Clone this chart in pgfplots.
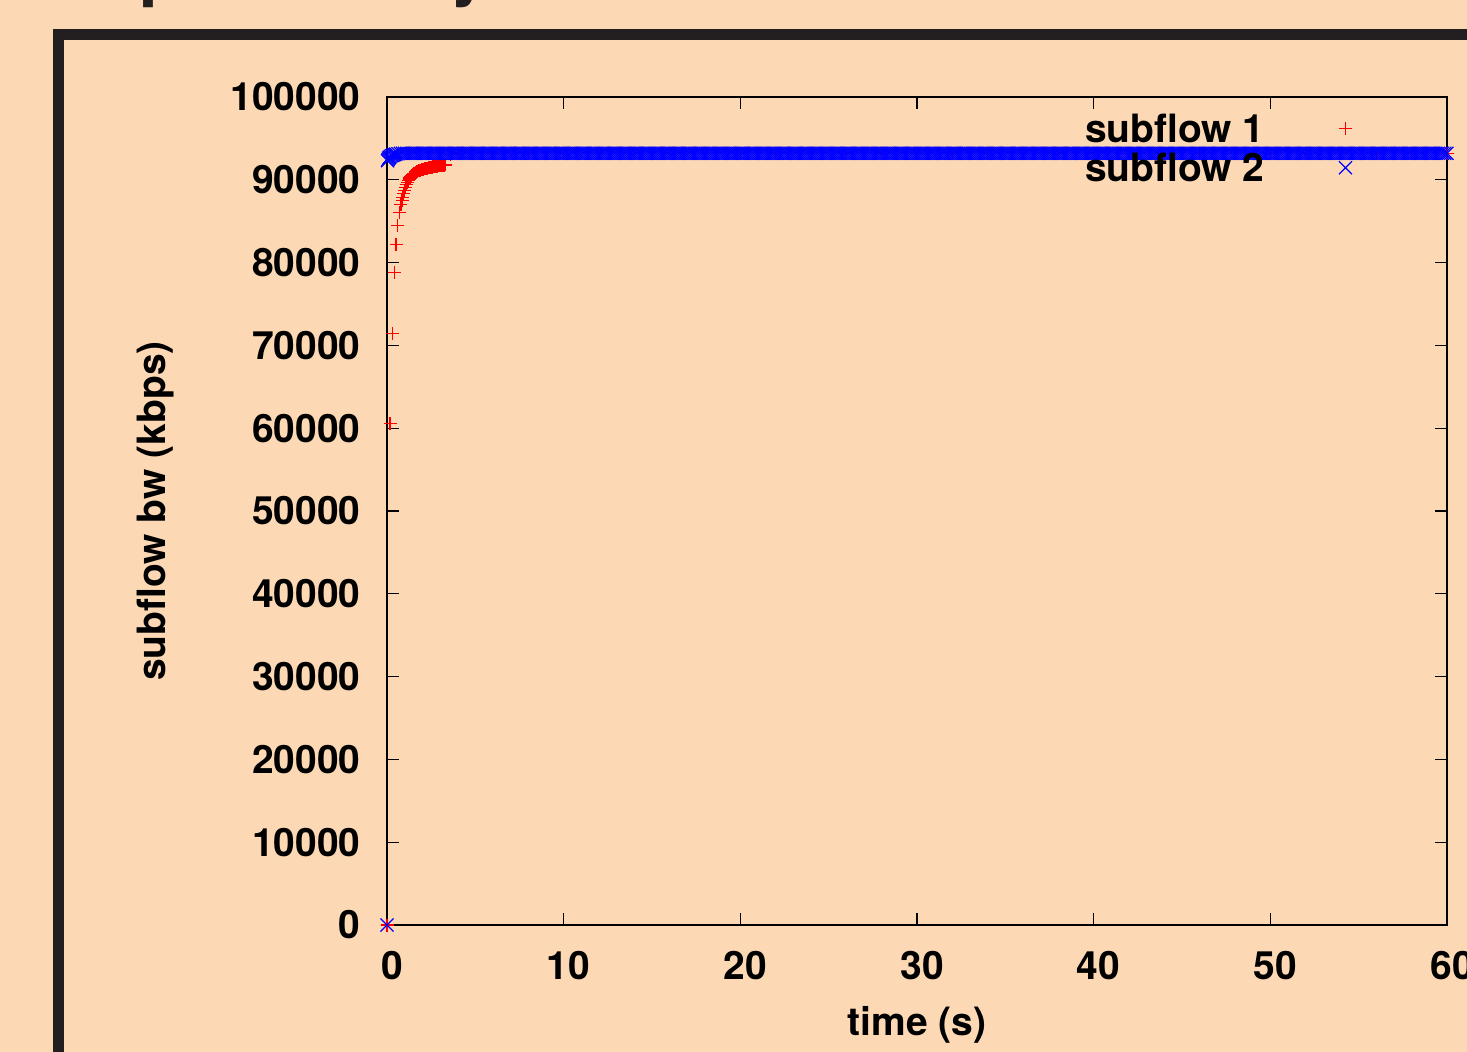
\documentclass[border=0pt]{standalone}
\usepackage{pgfplots}
\pgfplotsset{compat=1.18}
\usepackage{fontspec}
\setmainfont{TeX Gyre Heros}
\definecolor{bg}{RGB}{252,217,180}
\definecolor{framec}{RGB}{35,31,32}
\newcommand{\bigf}{\fontsize{19.5}{23}\selectfont\bfseries}
\begin{document}
\begin{tikzpicture}
\useasboundingbox (0,0) rectangle (733.5pt,-526pt);
\clip (0,0) rectangle (733.5pt,-526pt);
\fill[bg] (-5pt,5pt) rectangle (740pt,-530pt);
\draw[framec, line width=5.5pt] (29.25pt,-17.25pt) rectangle (800pt,-600pt);
\node[anchor=base west, inner sep=0pt, font=\fontsize{35}{40}\selectfont\bfseries, text=framec] at (69.5pt,3.5pt) {p};
\node[anchor=base west, inner sep=0pt, font=\fontsize{35}{40}\selectfont\bfseries, text=framec] at (225pt,3.5pt) {y};
\begin{axis}[
  at={(193.5pt,-462.5pt)}, anchor=south west,
  width=530pt, height=414pt, scale only axis,
  xmin=0, xmax=60, ymin=0, ymax=100000,
  xtick={0,10,...,60}, ytick={0,10000,...,100000},
  scaled y ticks=false, scaled x ticks=false,
  /pgf/number format/fixed,
  /pgf/number format/set thousands separator={},
  /pgf/number format/assume math mode=true,
  tick align=inside, major tick length=6pt,
  tick style={line width=0.6pt, black},
  axis line style={line width=0.85pt, black},
  ticklabel style={font=\bigf},
  yticklabel style={inner sep=0pt, anchor=east, xshift=-13pt},
  xticklabel style={inner sep=0pt, anchor=north, yshift=-13pt, xshift=2.5pt},
  label style={font=\bigf},
  xlabel={time (s)}, ylabel={subflow bw (kbps)},
  xlabel style={at={(axis description cs:0.5,-0.1329)}, anchor=base, inner sep=0pt},
  ylabel style={at={(axis description cs:-0.2094,0.5)}, anchor=base, inner sep=0pt},
  clip=false,
  legend plot pos=right, legend cell align=left,
  legend style={at={(axis description cs:0.6585,0.9793)}, anchor=north west,
    draw=none, fill=none, inner sep=0pt, outer sep=0pt,
    column sep=37.25pt, row sep=5.8pt, font=\bigf,
    nodes={inner sep=0pt, text height=14pt, text depth=0pt}},
  legend image code/.code={\draw[#1] plot coordinates {(0pt,0pt)};},
]
\addplot[only marks, red, mark=+, mark size=3.25pt, mark options={line width=0.55pt}] table[row sep=\\] {
x y\\
0 0\\ 0.17 60600\\ 0.32 71400\\ 0.40 78800\\ 0.51 82200\\ 0.58 84500\\ 0.70 86000\\
0.79 87000\\ 0.85 87500\\ 0.9 87900\\ 0.95 88300\\ 1.0 88700\\ 1.05 89050\\ 1.1 89400\\
1.15 89650\\ 1.2 89900\\ 1.25 90100\\ 1.3 90280\\ 1.35 90420\\ 1.4 90540\\ 1.45 90640\\
1.5 90720\\ 1.55 90800\\ 1.6 90870\\ 1.65 90930\\ 1.7 90990\\ 1.75 91040\\ 1.8 91090\\
1.85 91130\\ 1.9 91170\\ 1.95 91210\\ 2.0 91250\\ 2.05 91280\\ 2.1 91310\\ 2.15 91340\\
2.2 91370\\ 2.25 91395\\ 2.3 91420\\ 2.35 91445\\ 2.4 91470\\ 2.45 91495\\ 2.5 91520\\
2.55 91540\\ 2.6 91560\\ 2.65 91580\\ 2.7 91600\\ 2.75 91620\\ 2.8 91640\\ 2.85 91655\\
2.9 91670\\ 2.95 91685\\ 3.0 91700\\ 3.05 91715\\ 3.1 91730\\ 3.15 91745\\ 3.2 91760\\
3.25 91775\\ 3.3 91790\\ 3.6 93100\\ 4 93200\\ 6 93200\\ 8 93200\\
10 93200\\ 12 93200\\ 14 93200\\ 16 93200\\ 18 93200\\ 20 93200\\ 22 93200\\ 24 93200\\
26 93200\\ 28 93200\\ 30 93200\\ 32 93200\\ 34 93200\\ 36 93200\\ 38 93200\\ 40 93200\\
42 93200\\ 44 93200\\ 46 93200\\ 48 93200\\ 50 93200\\ 52 93200\\ 54 93200\\ 56 93200\\
58 93200\\ 60 93200\\
};
\addlegendentry{subflow 1}
\addplot[only marks, blue, mark=x, mark size=4.6pt, mark options={line width=0.6pt}] table[row sep=\\] {
x y\\
0 0\\ 0.03 92300\\ 0.06 92450\\ 0.1 92600\\ 0.125 92700\\ 0.18 92800\\ 0.25 92900\\ 0.31 92950\\
0.375 93000\\ 0.44 93050\\ 0.5 93100\\ 0.625 93150\\ 0.75 93200\\ 0.875 93200\\ 1 93200\\
1.125 93200\\ 1.25 93200\\ 1.375 93200\\ 1.5 93200\\ 1.625 93200\\ 1.75 93200\\ 1.875 93200\\ 2 93200\\
2.125 93200\\ 2.25 93200\\ 2.375 93200\\ 2.5 93200\\ 2.625 93200\\ 2.75 93200\\ 2.875 93200\\ 3 93200\\
3.125 93200\\ 3.25 93200\\ 3.375 93200\\ 3.5 93200\\ 3.625 93200\\ 3.75 93200\\ 3.875 93200\\ 4 93200\\
4.125 93200\\ 4.25 93200\\ 4.375 93200\\ 4.5 93200\\ 4.625 93200\\ 4.75 93200\\ 4.875 93200\\ 5 93200\\
5.125 93200\\ 5.25 93200\\ 5.375 93200\\ 5.5 93200\\ 5.625 93200\\ 5.75 93200\\ 5.875 93200\\ 6 93200\\
6.125 93200\\ 6.25 93200\\ 6.375 93200\\ 6.5 93200\\ 6.625 93200\\ 6.75 93200\\ 6.875 93200\\ 7 93200\\
7.125 93200\\ 7.25 93200\\ 7.375 93200\\ 7.5 93200\\ 7.625 93200\\ 7.75 93200\\ 7.875 93200\\ 8 93200\\
8.125 93200\\ 8.25 93200\\ 8.375 93200\\ 8.5 93200\\ 8.625 93200\\ 8.75 93200\\ 8.875 93200\\ 9 93200\\
9.125 93200\\ 9.25 93200\\ 9.375 93200\\ 9.5 93200\\ 9.625 93200\\ 9.75 93200\\ 9.875 93200\\ 10 93200\\
10.125 93200\\ 10.25 93200\\ 10.375 93200\\ 10.5 93200\\ 10.625 93200\\ 10.75 93200\\ 10.875 93200\\ 11 93200\\
11.125 93200\\ 11.25 93200\\ 11.375 93200\\ 11.5 93200\\ 11.625 93200\\ 11.75 93200\\ 11.875 93200\\ 12 93200\\
12.125 93200\\ 12.25 93200\\ 12.375 93200\\ 12.5 93200\\ 12.625 93200\\ 12.75 93200\\ 12.875 93200\\ 13 93200\\
13.125 93200\\ 13.25 93200\\ 13.375 93200\\ 13.5 93200\\ 13.625 93200\\ 13.75 93200\\ 13.875 93200\\ 14 93200\\
14.125 93200\\ 14.25 93200\\ 14.375 93200\\ 14.5 93200\\ 14.625 93200\\ 14.75 93200\\ 14.875 93200\\ 15 93200\\
15.125 93200\\ 15.25 93200\\ 15.375 93200\\ 15.5 93200\\ 15.625 93200\\ 15.75 93200\\ 15.875 93200\\ 16 93200\\
16.125 93200\\ 16.25 93200\\ 16.375 93200\\ 16.5 93200\\ 16.625 93200\\ 16.75 93200\\ 16.875 93200\\ 17 93200\\
17.125 93200\\ 17.25 93200\\ 17.375 93200\\ 17.5 93200\\ 17.625 93200\\ 17.75 93200\\ 17.875 93200\\ 18 93200\\
18.125 93200\\ 18.25 93200\\ 18.375 93200\\ 18.5 93200\\ 18.625 93200\\ 18.75 93200\\ 18.875 93200\\ 19 93200\\
19.125 93200\\ 19.25 93200\\ 19.375 93200\\ 19.5 93200\\ 19.625 93200\\ 19.75 93200\\ 19.875 93200\\ 20 93200\\
20.125 93200\\ 20.25 93200\\ 20.375 93200\\ 20.5 93200\\ 20.625 93200\\ 20.75 93200\\ 20.875 93200\\ 21 93200\\
21.125 93200\\ 21.25 93200\\ 21.375 93200\\ 21.5 93200\\ 21.625 93200\\ 21.75 93200\\ 21.875 93200\\ 22 93200\\
22.125 93200\\ 22.25 93200\\ 22.375 93200\\ 22.5 93200\\ 22.625 93200\\ 22.75 93200\\ 22.875 93200\\ 23 93200\\
23.125 93200\\ 23.25 93200\\ 23.375 93200\\ 23.5 93200\\ 23.625 93200\\ 23.75 93200\\ 23.875 93200\\ 24 93200\\
24.125 93200\\ 24.25 93200\\ 24.375 93200\\ 24.5 93200\\ 24.625 93200\\ 24.75 93200\\ 24.875 93200\\ 25 93200\\
25.125 93200\\ 25.25 93200\\ 25.375 93200\\ 25.5 93200\\ 25.625 93200\\ 25.75 93200\\ 25.875 93200\\ 26 93200\\
26.125 93200\\ 26.25 93200\\ 26.375 93200\\ 26.5 93200\\ 26.625 93200\\ 26.75 93200\\ 26.875 93200\\ 27 93200\\
27.125 93200\\ 27.25 93200\\ 27.375 93200\\ 27.5 93200\\ 27.625 93200\\ 27.75 93200\\ 27.875 93200\\ 28 93200\\
28.125 93200\\ 28.25 93200\\ 28.375 93200\\ 28.5 93200\\ 28.625 93200\\ 28.75 93200\\ 28.875 93200\\ 29 93200\\
29.125 93200\\ 29.25 93200\\ 29.375 93200\\ 29.5 93200\\ 29.625 93200\\ 29.75 93200\\ 29.875 93200\\ 30 93200\\
30.125 93200\\ 30.25 93200\\ 30.375 93200\\ 30.5 93200\\ 30.625 93200\\ 30.75 93200\\ 30.875 93200\\ 31 93200\\
31.125 93200\\ 31.25 93200\\ 31.375 93200\\ 31.5 93200\\ 31.625 93200\\ 31.75 93200\\ 31.875 93200\\ 32 93200\\
32.125 93200\\ 32.25 93200\\ 32.375 93200\\ 32.5 93200\\ 32.625 93200\\ 32.75 93200\\ 32.875 93200\\ 33 93200\\
33.125 93200\\ 33.25 93200\\ 33.375 93200\\ 33.5 93200\\ 33.625 93200\\ 33.75 93200\\ 33.875 93200\\ 34 93200\\
34.125 93200\\ 34.25 93200\\ 34.375 93200\\ 34.5 93200\\ 34.625 93200\\ 34.75 93200\\ 34.875 93200\\ 35 93200\\
35.125 93200\\ 35.25 93200\\ 35.375 93200\\ 35.5 93200\\ 35.625 93200\\ 35.75 93200\\ 35.875 93200\\ 36 93200\\
36.125 93200\\ 36.25 93200\\ 36.375 93200\\ 36.5 93200\\ 36.625 93200\\ 36.75 93200\\ 36.875 93200\\ 37 93200\\
37.125 93200\\ 37.25 93200\\ 37.375 93200\\ 37.5 93200\\ 37.625 93200\\ 37.75 93200\\ 37.875 93200\\ 38 93200\\
38.125 93200\\ 38.25 93200\\ 38.375 93200\\ 38.5 93200\\ 38.625 93200\\ 38.75 93200\\ 38.875 93200\\ 39 93200\\
39.125 93200\\ 39.25 93200\\ 39.375 93200\\ 39.5 93200\\ 39.625 93200\\ 39.75 93200\\ 39.875 93200\\ 40 93200\\
40.125 93200\\ 40.25 93200\\ 40.375 93200\\ 40.5 93200\\ 40.625 93200\\ 40.75 93200\\ 40.875 93200\\ 41 93200\\
41.125 93200\\ 41.25 93200\\ 41.375 93200\\ 41.5 93200\\ 41.625 93200\\ 41.75 93200\\ 41.875 93200\\ 42 93200\\
42.125 93200\\ 42.25 93200\\ 42.375 93200\\ 42.5 93200\\ 42.625 93200\\ 42.75 93200\\ 42.875 93200\\ 43 93200\\
43.125 93200\\ 43.25 93200\\ 43.375 93200\\ 43.5 93200\\ 43.625 93200\\ 43.75 93200\\ 43.875 93200\\ 44 93200\\
44.125 93200\\ 44.25 93200\\ 44.375 93200\\ 44.5 93200\\ 44.625 93200\\ 44.75 93200\\ 44.875 93200\\ 45 93200\\
45.125 93200\\ 45.25 93200\\ 45.375 93200\\ 45.5 93200\\ 45.625 93200\\ 45.75 93200\\ 45.875 93200\\ 46 93200\\
46.125 93200\\ 46.25 93200\\ 46.375 93200\\ 46.5 93200\\ 46.625 93200\\ 46.75 93200\\ 46.875 93200\\ 47 93200\\
47.125 93200\\ 47.25 93200\\ 47.375 93200\\ 47.5 93200\\ 47.625 93200\\ 47.75 93200\\ 47.875 93200\\ 48 93200\\
48.125 93200\\ 48.25 93200\\ 48.375 93200\\ 48.5 93200\\ 48.625 93200\\ 48.75 93200\\ 48.875 93200\\ 49 93200\\
49.125 93200\\ 49.25 93200\\ 49.375 93200\\ 49.5 93200\\ 49.625 93200\\ 49.75 93200\\ 49.875 93200\\ 50 93200\\
50.125 93200\\ 50.25 93200\\ 50.375 93200\\ 50.5 93200\\ 50.625 93200\\ 50.75 93200\\ 50.875 93200\\ 51 93200\\
51.125 93200\\ 51.25 93200\\ 51.375 93200\\ 51.5 93200\\ 51.625 93200\\ 51.75 93200\\ 51.875 93200\\ 52 93200\\
52.125 93200\\ 52.25 93200\\ 52.375 93200\\ 52.5 93200\\ 52.625 93200\\ 52.75 93200\\ 52.875 93200\\ 53 93200\\
53.125 93200\\ 53.25 93200\\ 53.375 93200\\ 53.5 93200\\ 53.625 93200\\ 53.75 93200\\ 53.875 93200\\ 54 93200\\
54.125 93200\\ 54.25 93200\\ 54.375 93200\\ 54.5 93200\\ 54.625 93200\\ 54.75 93200\\ 54.875 93200\\ 55 93200\\
55.125 93200\\ 55.25 93200\\ 55.375 93200\\ 55.5 93200\\ 55.625 93200\\ 55.75 93200\\ 55.875 93200\\ 56 93200\\
56.125 93200\\ 56.25 93200\\ 56.375 93200\\ 56.5 93200\\ 56.625 93200\\ 56.75 93200\\ 56.875 93200\\ 57 93200\\
57.125 93200\\ 57.25 93200\\ 57.375 93200\\ 57.5 93200\\ 57.625 93200\\ 57.75 93200\\ 57.875 93200\\ 58 93200\\
58.125 93200\\ 58.25 93200\\ 58.375 93200\\ 58.5 93200\\ 58.625 93200\\ 58.75 93200\\ 58.875 93200\\ 59 93200\\
59.125 93200\\ 59.25 93200\\ 59.375 93200\\ 59.5 93200\\ 59.625 93200\\ 59.75 93200\\ 59.875 93200\\ 60 93200\\
};
\addlegendentry{subflow 2}
\end{axis}
\end{tikzpicture}
\end{document}
